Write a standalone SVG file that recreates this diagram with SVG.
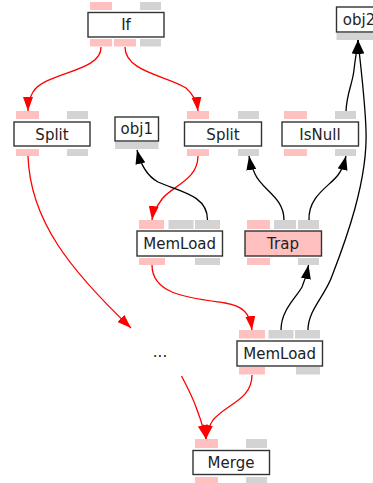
<svg xmlns="http://www.w3.org/2000/svg" width="373" height="483" viewBox="0 0 373 483">
<defs>
<style>
.box{fill:#fff;stroke:#333;stroke-width:1.4}
.pp{fill:#ffc0c0}
.gp{fill:#d3d3d3}
.t{font-family:"DejaVu Sans",sans-serif;font-size:15px;fill:#222;text-anchor:middle}
.er{fill:none;stroke:#f00;stroke-width:1.3}
.eb{fill:none;stroke:#000;stroke-width:1.3}
</style>
<marker id="ar" viewBox="0 0 14 10" refX="14" refY="5" markerWidth="14" markerHeight="10" markerUnits="userSpaceOnUse" orient="auto"><path d="M0,0 L14,5 L0,10 Z" fill="#f00"/></marker>
<marker id="ab" viewBox="0 0 14 10" refX="14" refY="5" markerWidth="14" markerHeight="10" markerUnits="userSpaceOnUse" orient="auto"><path d="M0,0 L14,5 L0,10 Z" fill="#000"/></marker>
</defs>
<rect width="373" height="483" fill="#fff"/>
<g id="connectors">
<path class="er" d="M101,47 C102,72 45,72 33,92 C30,97 28,103 28,111" marker-end="url(#ar)"/>
<path class="er" d="M125,47 C125,72 168,76 186,88 C193,94 197,102 198,111" marker-end="url(#ar)"/>
<path class="er" d="M198,156 C198,180 172,186 162,199 C157,206 153,212 152,220" marker-end="url(#ar)"/>
<path class="eb" d="M207.5,220 C208,195 178,191 158,182 C147,176 141,166 137,150" marker-end="url(#ab)"/>
<path class="eb" d="M284,220 C284,197 262,190 255,174 C252,168 250,162 249,156" marker-end="url(#ab)"/>
<path class="eb" d="M309,220 C308,196 330,186 338,175 C342,170 344,164 346,156" marker-end="url(#ab)"/>
<path class="eb" d="M346,111 C347,92 352,86 354,70 C355,60 357,50 358,40" marker-end="url(#ab)"/>
<path class="eb" d="M308,330 C308,310 325,296 332,276 C346,240 368,180 366,130 C365,100 361,70 358,40" marker-end="url(#ab)"/>
<path class="eb" d="M281,330 C281,310 296,298 302,287 C305,280 307,273 308.5,265" marker-end="url(#ab)"/>
<path class="er" d="M152,265 C152,295 190,298 225,303 C243,306 250,313 252,330" marker-end="url(#ar)"/>
<path class="er" d="M252,375 C252,400 226,404 213,420 C209,426 207,432 206,439" marker-end="url(#ar)"/>
<path class="er" d="M181.5,376 C190,392 199,410 206,439" marker-end="url(#ar)"/>
<path class="er" d="M28,156 C30,220 70,270 131,328" marker-end="url(#ar)"/>
</g>
<g id="If">
<rect class="pp" x="90" y="2" width="22" height="8"/><rect class="gp" x="140" y="2" width="21" height="8"/>
<rect class="box" x="88" y="12.5" width="76" height="24.5"/>
<text class="t" x="126" y="30">If</text>
<rect class="pp" x="90" y="39" width="22" height="7.5"/><rect class="pp" x="114" y="39" width="22" height="7.5"/><rect class="gp" x="140" y="39" width="21" height="7.5"/>
</g>
<g id="Split1">
<rect class="pp" x="16" y="111" width="23" height="8"/><rect class="gp" x="67" y="111" width="21" height="8"/>
<rect class="box" x="14" y="122" width="76" height="24"/>
<text class="t" x="52" y="139.5">Split</text>
<rect class="pp" x="16" y="149" width="23" height="7"/><rect class="gp" x="67" y="149" width="21" height="7"/>
</g>
<g id="obj1">
<rect class="box" x="115" y="117" width="43.5" height="24"/>
<text class="t" x="136.8" y="134">obj1</text>
<rect class="gp" x="115" y="142" width="43.5" height="7"/>
</g>
<g id="Split2">
<rect class="pp" x="187" y="111" width="22" height="8"/><rect class="gp" x="238" y="111" width="21" height="8"/>
<rect class="box" x="184.5" y="122" width="77" height="24"/>
<text class="t" x="223" y="139.5">Split</text>
<rect class="pp" x="187" y="149" width="22" height="7"/><rect class="gp" x="238" y="149" width="21" height="7"/>
</g>
<g id="IsNull">
<rect class="pp" x="284" y="111" width="23" height="8"/><rect class="gp" x="335" y="111" width="21" height="8"/>
<rect class="box" x="282" y="122" width="76.5" height="24"/>
<text class="t" x="320" y="139.5">IsNull</text>
<rect class="pp" x="284" y="149" width="23" height="7"/><rect class="gp" x="335" y="149" width="21" height="7"/>
</g>
<g id="obj2">
<rect class="box" x="336.5" y="7" width="45" height="25"/>
<text class="t" x="359" y="24.5">obj2</text>
<rect class="gp" x="336.5" y="33" width="45" height="7"/>
</g>
<g id="MemLoad1">
<rect class="pp" x="139" y="220" width="25" height="9"/><rect class="gp" x="168.5" y="220" width="25" height="9"/><rect class="gp" x="195" y="220" width="25" height="9"/>
<rect class="box" x="137" y="231" width="85.5" height="25"/>
<text class="t" x="179.7" y="249">MemLoad</text>
<rect class="pp" x="139" y="258" width="26" height="7"/><rect class="gp" x="195" y="258" width="25" height="7"/>
</g>
<g id="Trap">
<rect class="pp" x="247" y="220" width="23" height="9"/><rect class="gp" x="274" y="220" width="22" height="9"/><rect class="gp" x="298" y="220" width="21" height="9"/>
<rect class="box" x="245" y="231" width="76.5" height="25" style="fill:#ffc0c0"/>
<text class="t" x="283" y="249">Trap</text>
<rect class="pp" x="247" y="258" width="23" height="7"/><rect class="gp" x="298" y="258" width="21" height="7"/>
</g>
<g id="ellipsis">
<text class="t" x="160" y="357">...</text>
</g>
<g id="MemLoad2">
<rect class="pp" x="239" y="330" width="26" height="8.5"/><rect class="gp" x="268.5" y="330" width="25" height="8.5"/><rect class="gp" x="295" y="330" width="25" height="8.5"/>
<rect class="box" x="237" y="341" width="85.5" height="25"/>
<text class="t" x="279.7" y="358.5">MemLoad</text>
<rect class="pp" x="239" y="367" width="26" height="7.5"/><rect class="gp" x="296" y="367" width="24" height="7.5"/>
</g>
<g id="Merge">
<rect class="pp" x="195" y="439" width="23" height="9"/><rect class="gp" x="246" y="439" width="21" height="9"/>
<rect class="box" x="193" y="450.5" width="76.5" height="24"/>
<text class="t" x="231" y="468">Merge</text>
<rect class="pp" x="195" y="477" width="23" height="6"/><rect class="gp" x="246" y="477" width="21" height="6"/>
</g>
</svg>
